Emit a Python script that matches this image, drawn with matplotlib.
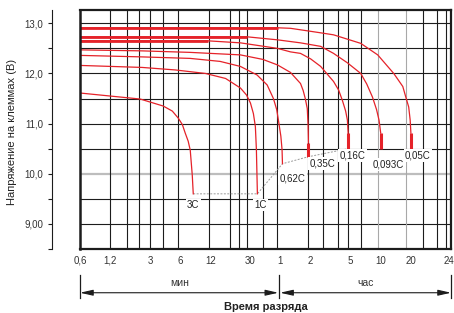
import numpy as np
import matplotlib
matplotlib.use("Agg")
import matplotlib.pyplot as plt
import matplotlib.transforms as mtransforms
from matplotlib.ticker import NullLocator

plt.rcParams['font.family'] = ['Liberation Sans', 'DejaVu Sans']

# discharge curves: time in minutes, terminal voltage in V
t_3c = [0.6, 1.34, 2.39, 4.06, 5.0, 5.73, 6.3, 6.73, 7.2, 7.55, 7.91, 8.09]
v_3c = [11.61, 11.54, 11.49, 11.35, 11.25, 11.11, 10.98, 10.81, 10.65, 10.47, 9.97, 9.60]

t_1c = [0.6, 2.5, 5.35, 10.7, 17, 23.9, 27.5, 30.1, 32.2, 33.7, 34.5, 35.3]
v_1c = [12.16, 12.12, 12.07, 12.00, 11.90, 11.71, 11.57, 11.41, 11.20, 10.94, 10.48, 9.60]

t_062 = [0.6, 2.5, 7.55, 15, 23.9, 35, 44.2, 51, 55, 57.2, 60.5, 62.2, 62.8]
v_062 = [12.36, 12.33, 12.30, 12.24, 12.14, 11.97, 11.77, 11.50, 11.28, 11.07, 10.75, 10.48, 10.20]

t_035 = [0.6, 2.5, 7.55, 23.9, 40, 56, 75.5, 95, 101, 106, 111, 113, 114]
v_035 = [12.47, 12.45, 12.42, 12.37, 12.28, 12.17, 12.02, 11.80, 11.66, 11.50, 11.30, 10.98, 10.62]

t_016 = [0.6, 11.4, 23.9, 56, 75.5, 95, 120, 151, 203, 228, 248, 268, 279, 284]
v_016 = [12.65, 12.65, 12.61, 12.50, 12.43, 12.40, 12.29, 12.14, 11.84, 11.67, 11.47, 11.25, 11.07, 10.81]

t_0093 = [0.6, 28, 56, 95, 151, 203, 280, 379, 435, 496, 545, 577, 600]
v_0093 = [12.73, 12.73, 12.67, 12.61, 12.54, 12.40, 12.21, 12.00, 11.79, 11.53, 11.28, 11.07, 10.81]

t_005 = [0.6, 57, 75.5, 151, 203, 379, 560, 809, 996, 1067, 1141, 1180, 1200]
v_005 = [12.91, 12.91, 12.90, 12.81, 12.77, 12.60, 12.37, 12.00, 11.74, 11.53, 11.33, 11.07, 10.81]

rate_labels = ["3C", "1C", "0,62C", "0,35C", "0,16C", "0,093C", "0,05C"]
label_t = [8.09, 37.9, 79, 158, 315, 721, 1241]
label_v = [9.38, 9.38, 9.90, 10.20, 10.36, 10.18, 10.36]

# thick end-of-discharge marks
end_t = [114, 284, 600, 1200]
end_top = [10.62, 10.81, 10.81, 10.81]
end_bot = [10.34, 10.50, 10.50, 10.50]

# final voltage line
cut_t = [8.09, 35.3, 62.8, 114, 284]
cut_v = [9.60, 9.60, 10.20, 10.34, 10.50]

tick_t = [0.6, 1.2, 3, 6, 12, 30, 60, 120, 300, 600, 1200, 1428]
tick_lab = ["0,6", "1,2", "3", "6", "12", "30", "1", "2", "5", "10", "20", "24"]
grid_t = [1.2, 1.75, 2.35, 3, 4, 5.7, 11.5, 19, 23, 28, 40, 56, 112, 160, 225,
          280, 380, 1271, 1356, 1410]
grid_t_gray = [560, 1070]
grid_v = [9.0, 9.5, 10.5, 11.0, 11.5, 12.0, 12.5, 13.0]


# log time axis up to 20 h, last part (20-24 h) squeezed in linearly
def fwd(t):
    t = np.asarray(t, dtype=float)
    tt = np.clip(t, 1e-6, None)
    return np.where(t <= 1200, np.log10(tt / 0.6), np.log10(2000) + (t - 1200) / 240 * 0.4)


def inv(p):
    p = np.asarray(p, dtype=float)
    return np.where(p <= np.log10(2000), 0.6 * 10 ** np.minimum(p, 4), 1200 + (p - np.log10(2000)) / 0.4 * 240)


red = '#e52229'
ink = '#1c1c1c'

fig = plt.figure(figsize=(4.54, 3.13), dpi=100)
ax = fig.add_axes([80 / 454, 1 - 249 / 313, 371 / 454, 239 / 313])
ax.set_xscale('function', functions=(fwd, inv))
ax.set_xlim(0.6, 1440)
ax.set_ylim(8.5, 13.265)

for v in grid_v:
    ax.axhline(v, color=ink, lw=0.8, zorder=1)
ax.axhline(10.0, color='#bdbdbd', lw=1.6, zorder=1)
for t in grid_t:
    ax.axvline(t, color=ink, lw=0.8, zorder=1)
for t in grid_t_gray:
    ax.axvline(t, color='#a8a8a8', lw=0.8, zorder=1)
ax.axvline(0.6, color=ink, lw=1.8, zorder=6, clip_on=False)

ax.plot(cut_t, cut_v, color='#9a9a9a', lw=0.7, ls=(0, (2, 1.5)), zorder=2)

curves = [(t_3c, v_3c), (t_1c, v_1c), (t_062, v_062), (t_035, v_035),
          (t_016, v_016), (t_0093, v_0093), (t_005, v_005)]
for t, v in curves:
    ax.plot(t, v, color=red, lw=0.9, zorder=3)
for t, v in curves[4:]:
    ax.plot(t[:2], v[:2], color=red, lw=2.0, solid_capstyle='butt', zorder=3)
for t, a, b in zip(end_t, end_top, end_bot):
    ax.plot([t, t], [a, b], color=red, lw=2.2, solid_capstyle='butt', zorder=3)

for lab, t, v in zip(rate_labels, label_t, label_v):
    ax.text(t, v, lab, fontsize=7, color='#222222', ha='center', va='center', zorder=4,
            bbox=dict(fc='white', ec='none', pad=1))

for s in ['top', 'right', 'bottom']:
    ax.spines[s].set_linewidth(1.6)
    ax.spines[s].set_color(ink)
ax.spines['left'].set_position(('axes', -28 / 371))
ax.spines['left'].set_linewidth(0.8)
ax.spines['left'].set_color(ink)

ax.set_yticks([9, 10, 11, 12, 13], ['9,00', '10,0', '11,0', '12,0', '13,0'])
ax.set_yticks([8.5, 9.5, 10.5, 11.5, 12.5], minor=True)
ax.tick_params(axis='y', which='both', length=3, width=0.8, pad=3.5,
               labelsize=7, colors=ink, labelcolor='#333333')

ax.set_xticks(tick_t, tick_lab)
ax.xaxis.set_minor_locator(NullLocator())
ax.tick_params(axis='x', length=0, pad=5, labelsize=7, labelcolor='#333333')

# min / hours brackets under the axis
trans = mtransforms.blended_transform_factory(ax.transData, ax.transAxes)
for t in [0.6, 58, 1440]:
    ax.plot([t, t], [-0.109, -0.205], transform=trans, color=ink, lw=0.9, clip_on=False)
arrow = dict(arrowstyle='<|-|>,head_length=1.1,head_width=0.25', color=ink, lw=0.8,
             shrinkA=0, shrinkB=0, mutation_scale=7)
ax.annotate('', xy=(0.6, -0.183), xytext=(57, -0.183), xycoords=trans, textcoords=trans,
            arrowprops=arrow)
ax.annotate('', xy=(59.5, -0.183), xytext=(1440, -0.183), xycoords=trans, textcoords=trans,
            arrowprops=arrow)
ax.text(5.86, -0.142, 'мин', transform=trans, ha='center', va='center', fontsize=7.5, color='#333333')
ax.text(425, -0.142, 'час', transform=trans, ha='center', va='center', fontsize=7.5, color='#333333')

fig.text(266 / 454, 1 - 306.5 / 313, 'Время разряда', ha='center', va='center',
         fontsize=8, fontweight='bold', color='#222222')
fig.text(12 / 454, 1 - 132 / 313, 'Напряжение на клеммах (В)', rotation=90,
         ha='center', va='center', fontsize=8, color='#222222')

fig.savefig('out.png', dpi=100)
